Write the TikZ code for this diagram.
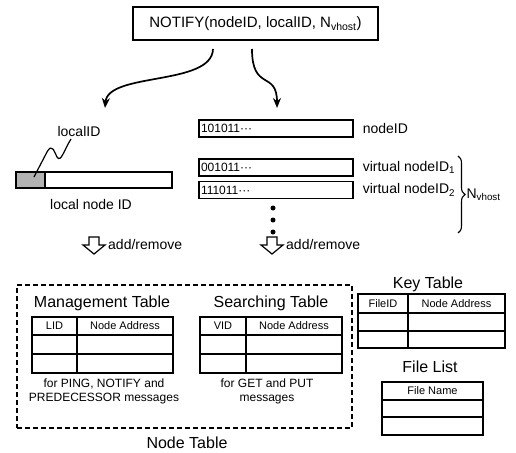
\documentclass[tikz,border=0pt]{standalone}
\usepackage{fontspec}
\setmainfont{Liberation Sans}
\usepackage{tikz}
\usetikzlibrary{shapes,arrows,arrows.meta,positioning,calc,decorations.pathreplacing}

\newcommand{\ftitle}{\fontsize{16}{18}\selectfont}
\newcommand{\flabel}{\fontsize{14}{16}\selectfont}
\newcommand{\fhead}{\fontsize{11}{13}\selectfont}
\newcommand{\fnote}{\fontsize{12}{14}\selectfont}
\newcommand{\fbits}{\fontsize{12}{14}\selectfont}

\begin{document}
\begin{tikzpicture}[x=1pt, y=-1pt,
    box/.style={draw, line width=1.3pt, inner sep=0pt},
    idbar/.style={draw, line width=1.2pt, minimum width=154pt, minimum height=17pt,
        inner sep=0pt, text width=150pt, align=left, font=\fbits},
    lbl/.style={inner sep=1pt, font=\flabel},
    title/.style={inner sep=1pt, font=\ftitle},
    head/.style={inner sep=0pt, font=\fhead},
    note/.style={inner sep=0pt, font=\fnote, align=center},
    dot/.style={circle, fill, inner sep=0pt, minimum size=5pt},
    arrow/.style={-{Stealth[length=10pt, width=8pt]}, line width=1.7pt},
    hollow/.style={draw, line width=1.2pt, line join=miter},
    grid/.style={line width=1.1pt},
    brace/.style={decorate, decoration={brace, amplitude=7pt}, line width=1.1pt}]

    \useasboundingbox (0,0) rectangle (516,452);

    % message at the top
    \node[box, minimum width=245pt, minimum height=33pt, font=\fontsize{15}{17}\selectfont] (notify) at (255.5,23.5)
        {NOTIFY(nodeID, localID, N\textsubscript{vhost})};

    \coordinate (from1) at (213,49);
    \coordinate (from2) at (252,49);
    \coordinate (to1) at (105,108);
    \coordinate (to2) at (277,108);
    \draw[arrow] (from1) .. controls (212,86) and (108,72) .. (to1);
    \draw[arrow] (from2) .. controls (252,92) and (277,70) .. (to2);

    % local node ID
    \node[lbl] (localid) at (79,131) {localID};
    \node[box, line width=1.2pt, minimum width=156pt, minimum height=16pt] (lbar) at (94,180) {};
    \node[fill=black!30, draw, line width=1.2pt, minimum width=29pt, minimum height=16pt,
        inner sep=0pt, anchor=west] (lpart) at (lbar.west) {};
    \node[lbl] (lnode) at (91,204) {local node ID};
    \coordinate (sq1) at (71,139);
    \coordinate (sq2) at (34,177);
    \draw[line width=1.2pt] (sq1) .. controls (64,150) and (61,163) .. (57,157)
        .. controls (54,151) and (52,143) .. (47,152) -- (sq2);

    % node IDs
    \node[idbar] (nid) at (276,128.5) {101011···};
    \node[idbar] (vid1) at (276,167.5) {001011···};
    \node[idbar] (vid2) at (276,190) {111011···};
    \node[lbl, right=8pt of nid] (nidlbl) {nodeID};
    \node[lbl, right=8pt of vid1] (vid1lbl) {virtual nodeID\textsubscript{1}};
    \node[lbl, right=8pt of vid2] (vid2lbl) {virtual nodeID\textsubscript{2}};
    \node[dot] (d1) at (273,208) {};
    \node[dot] (d2) at (273,220) {};
    \node[dot] (d3) at (273,232) {};
    \draw[brace] (458,156) -- node[lbl, right=7pt] (nvhost) {N\textsubscript{vhost}} (458,233);

    % add/remove arrows
    \coordinate (add1) at (94,237);
    \coordinate (add2) at (272,237);
    \draw[hollow] (add1) ++(-5,0) -- ++(0,8) -- ++(-6,0) -- ++(11,9) -- ++(11,-9) -- ++(-6,0) -- ++(0,-8) -- cycle;
    \draw[hollow] (add2) ++(-5,0) -- ++(0,8) -- ++(-6,0) -- ++(11,9) -- ++(11,-9) -- ++(-6,0) -- ++(0,-8) -- cycle;
    \node[lbl, anchor=west] (ar1) at (107,244) {add/remove};
    \node[lbl, anchor=west] (ar2) at (285,244) {add/remove};

    % node table
    \node[draw, dashed, dash pattern=on 5pt off 3pt, line width=1.3pt,
        minimum width=335pt, minimum height=143pt] (ntable) at (184.5,356.5) {};
    \node[title] (ntitle) at (187,443) {Node Table};

    \node[title] (mtitle) at (102,303) {Management Table};
    \draw[grid] (32,317) rectangle (173,373);
    \draw[grid] (32,335) -- (173,335) (32,354) -- (173,354) (77,317) -- (77,373);
    \node[head] (mlid) at (54.5,326) {LID};
    \node[head] (maddr) at (125,326) {Node Address};
    \node[note] (mnote) at (104,391) {for PING, NOTIFY and\\PREDECESSOR messages};

    \node[title] (stitle) at (271,303) {Searching Table};
    \draw[grid] (200,317) rectangle (342,373);
    \draw[grid] (200,335) -- (342,335) (200,354) -- (342,354) (246,317) -- (246,373);
    \node[head] (svid) at (223,326) {VID};
    \node[head] (saddr) at (294,326) {Node Address};
    \node[note] (snote) at (267,391) {for GET and PUT\\messages};

    % key table
    \node[title] (ktitle) at (428,284) {Key Table};
    \draw[grid] (358,294) rectangle (505,348);
    \draw[grid] (358,313) -- (505,313) (358,331) -- (505,331) (408,294) -- (408,348);
    \node[head] (kfile) at (383,303.5) {FileID};
    \node[head] (kaddr) at (456.5,303.5) {Node Address};

    % file list
    \node[title] (ftitle) at (430,367) {File List};
    \draw[grid] (382,382) rectangle (483,435);
    \draw[grid] (382,400) -- (483,400) (382,417) -- (483,417);
    \node[head] (fname) at (432.5,391) {File Name};
\end{tikzpicture}
\end{document}
